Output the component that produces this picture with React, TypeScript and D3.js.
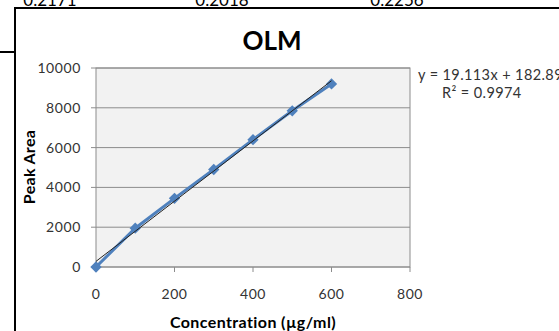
import * as d3 from "d3";

const conc = [0, 100, 200, 300, 400, 500, 600];
const peakArea = [0, 1950, 3450, 4900, 6400, 7850, 9200];
const xTicks = [0, 200, 400, 600, 800];
const yTicks = [0, 2000, 4000, 6000, 8000, 10000];
const topCells = ["0.2171", "0.2018", "0.2256"];
const topCellX = [50, 222, 397];
const equation = "y = 19.113x + 182.89";
const rSquared = "R² = 0.9974";

export default function App() {
  const width = 559;
  const height = 331;
  const plotLeft = 96;
  const plotRight = 410;
  const plotTop = 68;
  const plotBottom = 267;
  const font = "Lato, 'Liberation Sans', sans-serif";

  const x = d3.scaleLinear().domain([0, 800]).range([plotLeft, plotRight]);
  const y = d3.scaleLinear().domain([0, 10000]).range([plotBottom, plotTop]);

  // linear trendline (least squares) over the points
  const mx = d3.mean(conc)!;
  const my = d3.mean(peakArea)!;
  const sxy = d3.sum(conc, (c, i) => (c - mx) * (peakArea[i] - my));
  const sxx = d3.sum(conc, (c) => (c - mx) ** 2);
  const slope = sxy / sxx;
  const intercept = my - slope * mx;
  const xMax = d3.max(conc)!;

  const line = d3
    .line<number>()
    .x((_, i) => x(conc[i]))
    .y((d) => y(d));

  // square turned 45deg = Excel style diamond
  const diamond = d3.symbol(d3.symbolSquare, 64)()!;

  return (
    <svg
      width={width}
      height={height}
      style={{ position: "fixed", left: 0, top: 0, background: "#fff" }}
    >
      {/* bits of the surrounding sheet */}
      <g fontFamily={font} fontSize={17} fill="#000" textAnchor="middle">
        {topCells.map((t, i) => (
          <text key={t} x={topCellX[i]} y={6}>
            {t}
          </text>
        ))}
      </g>
      <line x1={14} x2={width} y1={8} y2={8} stroke="#000" strokeWidth={2} />
      <line x1={15} x2={15} y1={8} y2={height} stroke="#000" strokeWidth={2} />
      <line x1={0} x2={15} y1={52} y2={52} stroke="#000" strokeWidth={2} />

      <text
        x={272}
        y={50}
        textAnchor="middle"
        fontFamily={font}
        fontWeight="bold"
        fontSize={26}
      >
        OLM
      </text>

      {/* plot area */}
      <rect
        x={plotLeft}
        y={plotTop}
        width={plotRight - plotLeft}
        height={plotBottom - plotTop}
        fill="#f2f2f2"
        stroke="#8c8c8c"
      />
      {yTicks.map((t) => (
        <g key={t}>
          <line x1={plotLeft - 5} x2={plotRight} y1={y(t)} y2={y(t)} stroke="#8c8c8c" />
          <text
            x={81}
            y={y(t)}
            dy="0.35em"
            textAnchor="end"
            fontFamily={font}
            fontSize={14}
            letterSpacing={0.6}
            fill="#333"
          >
            {t}
          </text>
        </g>
      ))}
      {xTicks.map((t) => (
        <g key={t}>
          <line x1={x(t)} x2={x(t)} y1={plotBottom} y2={plotBottom + 5} stroke="#8c8c8c" />
          <text
            x={x(t)}
            y={299}
            textAnchor="middle"
            fontFamily={font}
            fontSize={14}
            letterSpacing={0.6}
            fill="#333"
          >
            {t}
          </text>
        </g>
      ))}

      {/* series */}
      <path d={line(peakArea)!} fill="none" stroke="#4f81bd" strokeWidth={3} />
      {peakArea.map((v, i) => (
        <path
          key={i}
          d={diamond}
          transform={`translate(${x(conc[i])},${y(v)}) rotate(45)`}
          fill="#4f81bd"
        />
      ))}
      <line
        x1={x(0)}
        y1={y(intercept)}
        x2={x(xMax)}
        y2={y(intercept + slope * xMax)}
        stroke="#222"
        strokeWidth={1}
      />

      {/* axis titles */}
      <text
        transform={`translate(35,167) rotate(-90)`}
        textAnchor="middle"
        fontFamily={font}
        fontWeight="bold"
        fontSize={16}
        letterSpacing={0.3}
      >
        Peak Area
      </text>
      <text
        x={253}
        y={328}
        textAnchor="middle"
        fontFamily={font}
        fontWeight="bold"
        fontSize={16}
        letterSpacing={0.4}
      >
        Concentration (µg/ml)
      </text>

      {/* trendline label */}
      <g fontFamily={font} fontSize={14.5} letterSpacing={0.4} fill="#333">
        <text x={418} y={80}>
          {equation}
        </text>
        <text x={442} y={98}>
          {rSquared}
        </text>
      </g>
    </svg>
  );
}
